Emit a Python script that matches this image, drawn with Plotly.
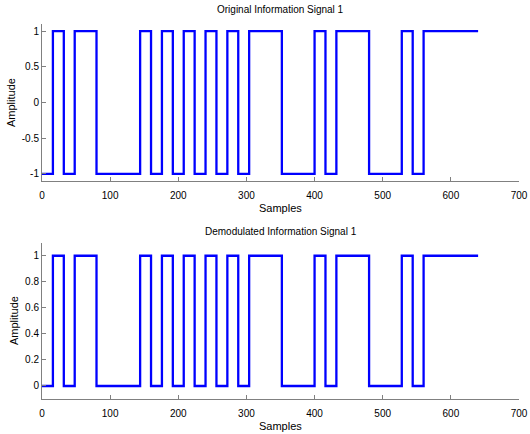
import plotly.graph_objects as go
from plotly.subplots import make_subplots

# Bit sequence of information signal 1 (16 samples per bit, 40 bits)
bits = [0, 1, 0, 1, 1, 0, 0, 0, 0,
        1, 0, 1, 0, 1, 0, 1, 0, 1, 0,
        1, 1, 1, 0, 0, 0, 1, 0, 1, 1, 1, 0, 0, 0, 1, 0, 1, 1, 1, 1, 1]
samples_per_bit = 16

# Step positions (start of each bit) plus the final sample
x_steps = [i * samples_per_bit for i in range(len(bits))] + [len(bits) * samples_per_bit]
original = [2 * b - 1 for b in bits] + [2 * bits[-1] - 1]     # bipolar -1/+1
demodulated = [b for b in bits] + [bits[-1]]                    # unipolar 0/1

x_ticks = [0, 100, 200, 300, 400, 500, 600, 700]
y_ticks_top = [-1, -0.5, 0, 0.5, 1]
y_ticks_bottom = [0, 0.2, 0.4, 0.6, 0.8, 1]

W, H = 530, 434
ml, mr, mt, mb = 42, 11, 24, 35
ph = H - mt - mb
pw = W - ml - mr

def fy(px):
    # pixel row -> paper fraction
    return (H - mb - px) / ph

def fx(px):
    # pixel column -> paper fraction
    return (px - ml) / pw

fig = make_subplots(rows=2, cols=1)
line = dict(color="#0000ff", width=2.3, shape="hv")
fig.add_trace(go.Scatter(x=x_steps, y=original, mode="lines", line=line,
                         showlegend=False, hoverinfo="skip"), row=1, col=1)
fig.add_trace(go.Scatter(x=x_steps, y=demodulated, mode="lines", line=line,
                         showlegend=False, hoverinfo="skip"), row=2, col=1)

family = "Liberation Sans, Arial, Helvetica, sans-serif"
tick_font = dict(family=family, size=10, color="black")
title_font = dict(family=family, size=10, color="black")
label_font = dict(family=family, size=11, color="black")

axis_common = dict(showline=True, linecolor="#808080", linewidth=1, ticks="inside",
                   ticklen=4, tickcolor="#808080", showgrid=False, zeroline=False,
                   tickfont=tick_font, mirror=False, automargin=False)

fig.update_xaxes(range=[0, 700], tickvals=x_ticks, domain=[0, 1],
                 ticklabelstandoff=5, **axis_common)
fig.update_yaxes(**axis_common)
fig.update_yaxes(range=[-1.1, 1.1], tickvals=y_ticks_top,
                 ticktext=["-1", "-0.5", "0", "0.5", "1"], domain=[fy(181), 1], row=1, col=1)
fig.update_yaxes(range=[-0.1, 1.1], tickvals=y_ticks_bottom,
                 ticktext=["0", "0.2", "0.4", "0.6", "0.8", "1"], domain=[0, fy(242.7)], row=2, col=1)

def ann(text, x, y, font, angle=0):
    return dict(text=text, x=x, y=y, xref="paper", yref="paper", showarrow=False,
                font=font, textangle=angle, xanchor="center", yanchor="middle")

fig.update_layout(
    width=W, height=H,
    margin=dict(l=ml, r=mr, t=mt, b=mb),
    paper_bgcolor="white", plot_bgcolor="white",
    annotations=[
        ann("Original Information Signal 1", 0.5, fy(10), title_font),
        ann("Samples", 0.5, fy(208), label_font),
        ann("Amplitude", fx(11), fy(103), label_font, -90),
        ann("Demodulated Information Signal 1", 0.5, fy(231), title_font),
        ann("Samples", 0.5, fy(426), label_font),
        ann("Amplitude", fx(14), fy(321), label_font, -90),
    ],
)

fig.write_html("out.html")
